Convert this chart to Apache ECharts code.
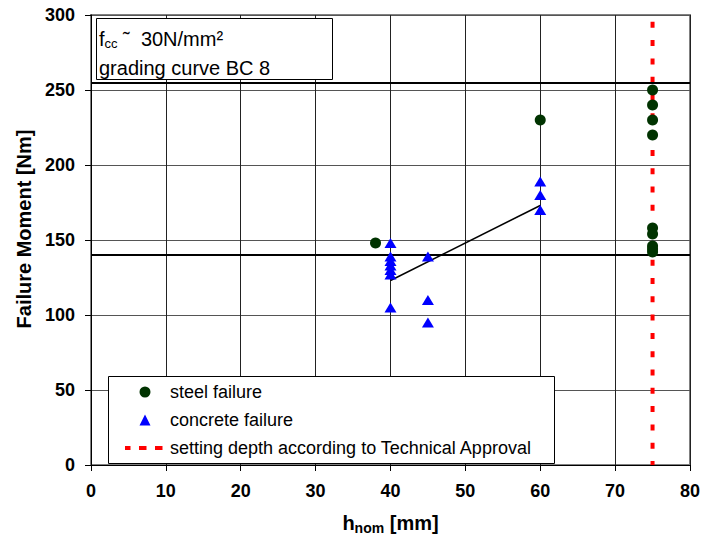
<!DOCTYPE html>
<html>
<head>
<meta charset="utf-8">
<script src="https://cdn.jsdelivr.net/npm/echarts@6/dist/echarts.min.js"></script>
<style>
html,body{margin:0;padding:0;background:#fff;}
#chart{width:703px;height:544px;}
</style>
</head>
<body>
<div id="chart"></div>
<script>
// ---- data ----
const steelX = [38, 60, 75, 75, 75, 75, 75, 75, 75, 75, 75];
const steelY = [148, 230, 250, 240, 230, 220, 158, 154, 146, 144, 142];
const concreteX = [40, 40, 40, 40, 40, 40, 40, 45, 45, 45, 60, 60, 60];
const concreteY = [148, 139, 136, 133, 130, 127, 105, 139, 110, 95, 189, 180, 170];
const trendX = [40, 60];
const trendY = [123, 173];
const refLevels = [140, 255];
const approvalDepth = 75;
const approvalRange = [0, 300];
const seriesNames = ['steel failure', 'concrete failure', 'setting depth according to Technical Approval'];
const boxLines = ['grading curve BC 8'];

const zip = (xs, ys) => xs.map((x, i) => [x, ys[i]]);
const FONT = '"Liberation Sans", Arial, sans-serif';

const chart = echarts.init(document.getElementById('chart'), null, {renderer: 'svg'});
chart.setOption({
  animation: false,
  backgroundColor: '#fff',
  textStyle: {fontFamily: FONT},
  grid: {left: 91, top: 15, right: 11, bottom: 79, show: true, borderColor: '#808080', borderWidth: 2, backgroundColor: 'transparent'},
  xAxis: {
    type: 'value', min: 0, max: 80, interval: 10,
    name: 'h{sub|nom} [mm]', nameLocation: 'middle', nameGap: 46,
    nameTextStyle: {fontFamily: FONT, fontSize: 20, fontWeight: 'bold', color: '#000',
      rich: {sub: {fontFamily: FONT, fontSize: 14, fontWeight: 'bold', color: '#000', padding: [10, 0, 0, 0]}}},
    axisLine: {lineStyle: {color: '#000', width: 1}},
    axisTick: {show: true, inside: false, length: 6, lineStyle: {color: '#000'}},
    axisLabel: {fontFamily: FONT, fontSize: 18, fontWeight: 'bold', color: '#000', margin: 17},
    splitLine: {show: true, lineStyle: {color: '#222', width: 1}}
  },
  yAxis: {
    type: 'value', min: 0, max: 300, interval: 50,
    name: 'Failure Moment [Nm]', nameLocation: 'middle', nameGap: 56, nameRotate: 90,
    nameTextStyle: {fontFamily: FONT, fontSize: 20, fontWeight: 'bold', color: '#000', padding: [0, 0, 0, 22]},
    axisLine: {show: true, lineStyle: {color: '#000', width: 1}},
    axisTick: {show: true, inside: false, length: 6, lineStyle: {color: '#000'}},
    axisLabel: {fontFamily: FONT, fontSize: 18, fontWeight: 'bold', color: '#000', margin: 16},
    splitLine: {show: true, lineStyle: {color: '#555', width: 1}}
  },
  legend: {
    orient: 'vertical', left: 123, top: 382, padding: 0, z: 20,
    itemWidth: 40, itemHeight: 11, itemGap: 8,
    textStyle: {fontFamily: FONT, fontSize: 18, color: '#000', lineHeight: 20},
    data: [
      {name: seriesNames[0], icon: 'path://M0,0 M40,11 M25.5,5.5 A5.5,5.5 0 1 1 14.5,5.5 A5.5,5.5 0 1 1 25.5,5.5 Z'},
      {name: seriesNames[1], icon: 'path://M0,0 M40,11 M14.5,11 L20,0 L25.5,11 Z'},
      {name: seriesNames[2], itemStyle: {opacity: 0}, lineStyle: {type: [7.5, 8.5], width: 4, color: '#ff0000'}}
    ]
  },
  graphic: {
    elements: [
      {type: 'rect', z: 10, shape: {x: 96.5, y: 18.5, width: 236, height: 61},
        style: {fill: '#fff', stroke: '#000', lineWidth: 1}},
      {type: 'text', z: 11, style: {x: 99, y: 39, verticalAlign: 'middle',
        text: 'f{sub|cc} ˜  30N/mm²', font: '20px ' + FONT, fill: '#000',
        rich: {sub: {fontSize: 13, fontFamily: FONT, fill: '#000', padding: [9, 0, 0, 0]}}}},
      {type: 'text', z: 11, style: {x: 99, y: 68, verticalAlign: 'middle',
        text: boxLines[0], font: '20px ' + FONT, fill: '#000'}},
      {type: 'rect', z: 10, shape: {x: 108.5, y: 376.5, width: 446, height: 87},
        style: {fill: '#fff', stroke: '#000', lineWidth: 1}}
    ]
  },
  series: [
    {
      type: 'line', name: 'trend', data: zip(trendX, trendY), symbol: 'none',
      lineStyle: {color: '#000', width: 1.5}, z: 3,
      markLine: {silent: true, symbol: 'none', label: {show: false},
        lineStyle: {color: '#000', width: 2, type: 'solid'},
        data: refLevels.map(v => ({yAxis: v}))}
    },
    {
      type: 'line', name: seriesNames[2], symbol: 'none', z: 4,
      data: approvalRange.map(v => [approvalDepth, v]),
      lineStyle: {color: '#ff0000', width: 4, type: [6, 12.3], dashOffset: 2},
      itemStyle: {color: '#ff0000'}
    },
    {
      type: 'scatter', name: seriesNames[0], data: zip(steelX, steelY), z: 5,
      symbol: 'circle', symbolSize: 11, itemStyle: {color: '#003300', opacity: 1}
    },
    {
      type: 'scatter', name: seriesNames[1], data: zip(concreteX, concreteY), z: 5,
      symbol: 'triangle', symbolSize: [12, 10],
      itemStyle: {color: '#0000ff', opacity: 1}
    }
  ]
});
</script>
</body>
</html>
